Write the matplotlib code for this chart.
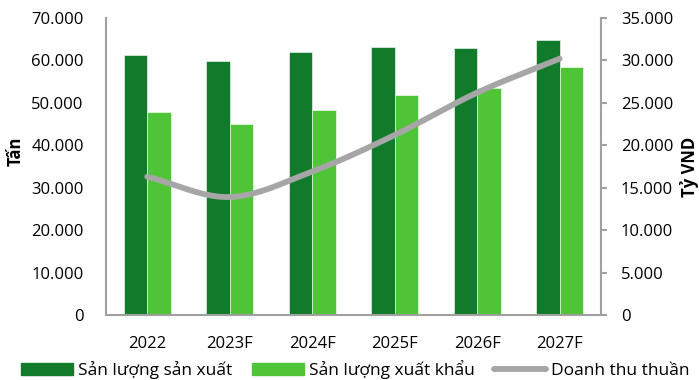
import numpy as np
import matplotlib
matplotlib.use("Agg")
import matplotlib.pyplot as plt
from matplotlib.ticker import FuncFormatter
from matplotlib.lines import Line2D
from matplotlib.patches import Patch

plt.rcParams['font.family'] = ['Open Sans', 'DejaVu Sans']

years = ["2022", "2023F", "2024F", "2025F", "2026F", "2027F"]
san_xuat = [61300, 59900, 62000, 63200, 62900, 64800]
xuat_khau = [47900, 44900, 48300, 51800, 53500, 58400]
doanh_thu = [16300, 13900, 16900, 21200, 26200, 30200]

dark_green = '#127a2b'
light_green = '#50c437'
grey_line = '#a6a6a6'
axis_grey = '#a0a0a0'


def smooth(xs, ys, n=40):
    # Catmull-Rom style smoothing similar to Excel's smoothed line
    xs = np.asarray(xs, float)
    ys = np.asarray(ys, float)
    px = np.concatenate([[2 * xs[0] - xs[1]], xs, [2 * xs[-1] - xs[-2]]])
    py = np.concatenate([[2 * ys[0] - ys[1]], ys, [2 * ys[-1] - ys[-2]]])
    outx, outy = [], []
    for i in range(1, len(px) - 2):
        t = np.linspace(0, 1, n)
        for p, out in ((px, outx), (py, outy)):
            p0, p1, p2, p3 = p[i - 1], p[i], p[i + 1], p[i + 2]
            b1 = p1 + (p2 - p0) / 6
            b2 = p2 - (p3 - p1) / 6
            out.extend((1 - t) ** 3 * p1 + 3 * (1 - t) ** 2 * t * b1
                       + 3 * (1 - t) * t ** 2 * b2 + t ** 3 * p2)
    return np.array(outx), np.array(outy)


fig = plt.figure(figsize=(6.99, 3.80), dpi=100)
ax = fig.add_axes([0.1516, 0.1711, 0.708, 0.7816])
x = np.arange(len(years))
w = 0.286
ax.bar(x - w / 2, san_xuat, w, color=dark_green, edgecolor='white', linewidth=0.4, zorder=2)
ax.bar(x + w / 2, xuat_khau, w, color=light_green, edgecolor='white', linewidth=0.4, zorder=2)
ax.set_xlim(-0.5, len(years) - 0.5)
ax.set_ylim(0, 70000)
ax.set_yticks(np.arange(0, 70001, 10000))
fmt = FuncFormatter(lambda v, p: f"{int(v):,}".replace(",", "."))
ax.yaxis.set_major_formatter(fmt)
ax.set_xticks(x)
ax.set_xticklabels(years)
ax.tick_params(axis='both', length=0, labelsize=12, colors='black')
ax.tick_params(axis='y', pad=16)
ax.tick_params(axis='x', pad=15)
ax.set_ylabel('Tấn', fontsize=12, fontweight='bold')
ax.yaxis.set_label_coords(-0.165, 0.55)

for s in ['top', 'right']:
    ax.spines[s].set_visible(False)
for s in ['left', 'bottom']:
    ax.spines[s].set_color(axis_grey)
    ax.spines[s].set_linewidth(1.5)

ax2 = ax.twinx()
sx, sy = smooth(x, doanh_thu)
ax2.plot(sx, sy, color=grey_line, linewidth=4.2, solid_capstyle='round', zorder=3)
ax2.set_ylim(0, 35000)
ax2.set_yticks(np.arange(0, 35001, 5000))
ax2.yaxis.set_major_formatter(fmt)
ax2.tick_params(axis='y', length=4.5, width=1.5, color=axis_grey, labelsize=12, pad=10)
ax2.set_ylabel('Tỷ VND', fontsize=12, fontweight='bold', rotation=90, labelpad=5)
for s in ['top', 'left', 'bottom']:
    ax2.spines[s].set_visible(False)
ax2.spines['right'].set_color(axis_grey)
ax2.spines['right'].set_linewidth(1.5)

handles = [Patch(color=dark_green, label='Sản lượng sản xuất'),
           Patch(color=light_green, label='Sản lượng xuất khẩu'),
           Line2D([0], [0], color=grey_line, linewidth=4.2, solid_capstyle='round',
                  label='Doanh thu thuần')]
fig.legend(handles=handles, loc='center', bbox_to_anchor=(0.5086, 0.027), ncol=3,
           frameon=False, fontsize=12.5, handlelength=3.0, handleheight=0.63,
           columnspacing=1.1, handletextpad=0.3, borderpad=0, borderaxespad=0)

fig.savefig('out.png', dpi=100)
